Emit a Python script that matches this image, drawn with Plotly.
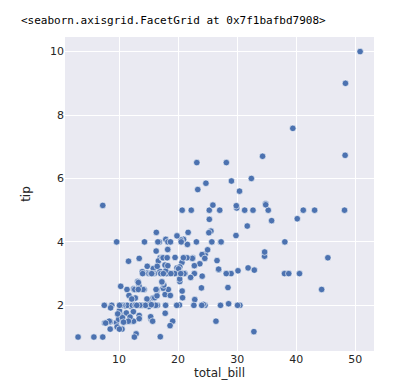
import plotly.graph_objects as go

total_bill = [16.99,10.34,21.01,23.68,24.59,25.29,8.77,26.88,15.04,14.78,10.27,35.26,15.42,18.43,14.83,21.58,10.33,16.29,16.97,20.65,
17.92,20.29,15.77,39.42,19.82,17.81,13.37,12.69,21.70,19.65,9.55,18.35,15.06,20.69,17.78,24.06,16.31,16.93,18.69,31.27,
16.04,17.46,13.94,9.68,30.40,18.29,22.23,32.40,28.55,18.04,12.54,10.29,34.81,9.94,25.56,19.49,38.01,26.41,11.24,48.27,
20.29,13.81,11.02,18.29,17.59,20.08,16.45,3.07,20.23,15.01,12.02,17.07,26.86,25.28,14.73,10.51,17.92,27.20,22.76,17.29,
19.44,16.66,10.07,32.68,15.98,34.83,13.03,18.28,24.71,21.16,28.97,22.49,5.75,16.32,22.75,40.17,27.28,12.03,21.01,12.46,
11.35,15.38,44.30,22.42,20.92,15.36,20.49,25.21,18.24,14.31,14.00,7.25,38.07,23.95,25.71,17.31,29.93,10.65,12.43,24.08,
11.69,13.42,14.26,15.95,12.48,29.80,8.52,14.52,11.38,22.82,19.08,20.27,11.17,12.26,18.26,8.51,10.33,14.15,16.00,13.16,
17.47,34.30,41.19,27.05,16.43,8.35,18.64,11.87,9.78,7.51,14.07,13.13,17.26,24.55,19.77,29.85,48.17,25.00,13.39,16.49,
21.50,12.66,16.21,13.81,17.51,24.52,20.76,31.71,10.59,10.63,50.81,15.81,7.25,31.85,16.82,32.90,17.89,14.48,9.60,34.63,
34.65,23.33,45.35,23.17,40.55,20.69,20.90,30.46,18.15,23.10,15.69,19.81,28.44,15.48,16.58,7.56,10.34,43.11,13.00,13.51,
18.71,12.74,13.00,16.40,20.53,16.47,26.59,38.73,24.27,12.76,30.06,25.89,48.33,13.27,28.17,12.90,28.15,11.59,7.74,30.14,
12.16,13.42,8.58,15.98,13.42,16.27,10.09,20.45,13.28,22.12,24.01,15.69,11.61,10.77,15.53,10.07,12.60,32.83,35.83,29.03,
27.18,22.67,17.82,18.78]

tip = [1.01,1.66,3.50,3.31,3.61,4.71,2.00,3.12,1.96,3.23,1.71,5.00,1.57,3.00,3.02,3.92,1.67,3.71,3.50,3.35,
4.08,2.75,2.23,7.58,3.18,2.34,2.00,2.00,4.30,3.00,1.45,2.50,3.00,2.45,3.27,3.60,2.00,3.07,2.31,5.00,
2.24,2.54,3.06,1.32,5.60,3.00,5.00,6.00,2.05,3.00,2.50,2.60,5.20,1.56,4.34,3.51,3.00,1.50,1.76,6.73,
3.21,2.00,1.98,3.76,2.64,3.15,2.47,1.00,2.01,2.09,1.97,3.00,3.14,5.00,2.20,1.25,3.08,4.00,3.00,2.71,
3.00,3.40,1.83,5.00,2.03,5.17,2.00,4.00,5.85,3.00,3.00,3.50,1.00,4.30,3.25,4.73,4.00,1.50,3.00,1.50,
2.50,3.00,2.50,3.48,4.08,1.64,4.06,4.29,3.76,4.00,3.00,1.00,4.00,2.55,4.00,3.50,5.07,1.50,1.80,2.92,
2.31,1.68,2.50,2.00,2.52,4.20,1.48,2.00,2.00,2.18,1.50,2.83,1.50,2.00,3.25,1.25,2.00,2.00,2.00,2.75,
3.50,6.70,5.00,5.00,2.30,1.50,1.36,1.63,1.73,2.00,2.50,2.00,2.74,2.00,2.00,5.14,5.00,3.75,2.61,2.00,
3.50,2.50,2.00,2.00,3.00,3.48,2.24,4.50,1.61,2.00,10.00,3.16,5.15,3.18,4.00,3.11,2.00,2.00,4.00,3.55,
3.68,5.65,3.50,6.50,3.00,5.00,3.50,2.00,3.50,4.00,1.50,4.19,2.56,2.02,4.00,1.44,2.00,5.00,2.00,2.00,
4.00,2.01,2.00,2.50,4.00,3.23,3.41,3.00,2.03,2.23,2.00,5.16,9.00,2.50,6.50,1.10,3.00,1.50,1.44,3.09,
2.20,3.48,1.92,3.00,1.58,2.50,2.00,3.00,2.72,2.88,2.00,3.00,3.39,1.47,3.00,1.25,1.00,1.17,4.67,5.92,
2.00,2.00,1.75,3.00]

x_ticks = [10, 20, 30, 40, 50]
y_ticks = [2, 4, 6, 8, 10]
title_text = "&lt;seaborn.axisgrid.FacetGrid at 0x7f1bafbd7908&gt;"

fig = go.Figure()
fig.add_trace(go.Scatter(
    x=total_bill, y=tip, mode="markers",
    marker=dict(color="#4C72B0", size=6.5, line=dict(color="white", width=0.6)),
    showlegend=False,
))

tickfont = dict(family="DejaVu Sans, Arial, sans-serif", size=11, color="#262626")
fig.update_layout(
    width=393, height=388,
    margin=dict(l=57, r=27, t=29, b=45),
    paper_bgcolor="white", plot_bgcolor="#EAEAF2",
    xaxis=dict(range=[0.86, 53.16], tickvals=x_ticks, showgrid=True, gridcolor="white",
               gridwidth=1, zeroline=False, showline=False, ticks="", tickfont=tickfont,
               title=dict(text="total_bill", font=dict(family="DejaVu Sans, sans-serif", size=12, color="#262626"), standoff=3)),
    yaxis=dict(range=[0.56, 10.46], tickvals=y_ticks, showgrid=True, gridcolor="white",
               gridwidth=1, zeroline=False, showline=False, ticks="", tickfont=tickfont,
               title=dict(text="tip", font=dict(family="DejaVu Sans, sans-serif", size=12, color="#262626"), standoff=16)),
    annotations=[dict(text=title_text, xref="paper", yref="paper", x=-0.148, y=1.0,
                      xanchor="left", yanchor="bottom", yshift=8, showarrow=False,
                      font=dict(family="DejaVu Sans Mono, monospace", size=11, color="#000000"))],
)

fig.write_html("out.html")
